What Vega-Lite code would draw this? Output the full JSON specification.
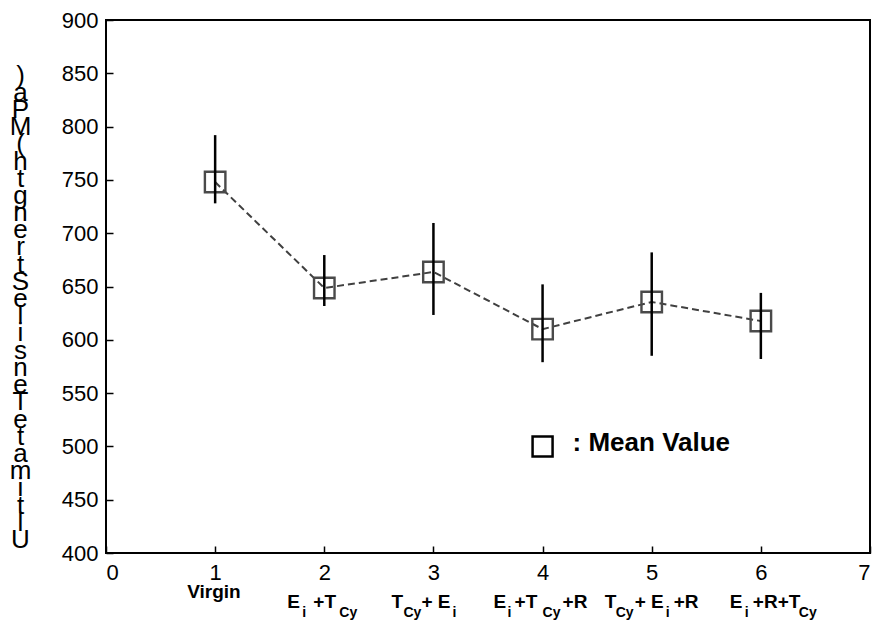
{
  "$schema": "https://vega.github.io/schema/vega-lite/v6.json",
  "width": 764,
  "height": 533,
  "autosize": {"type": "none"},
  "padding": {"left": 106, "top": 20, "right": 8, "bottom": 69},
  "background": "white",
  "config": {
    "view": {"stroke": "black", "strokeWidth": 2},
    "axis": {
      "domain": false,
      "grid": false,
      "tickColor": "black",
      "tickWidth": 1.5,
      "tickSize": -7,
      "labelFont": "Liberation Sans",
      "labelFontSize": 22,
      "labelColor": "black"
    },
    "text": {"font": "Liberation Sans", "color": "black"}
  },
  "datasets": {
    "points": [
      {"pos": 1, "mean": 748, "lo": 728, "hi": 792},
      {"pos": 2, "mean": 648.6, "lo": 631.7, "hi": 679.5},
      {"pos": 3, "mean": 663.6, "lo": 623.3, "hi": 709.6},
      {"pos": 4, "mean": 610, "lo": 579, "hi": 652},
      {"pos": 5, "mean": 635.5, "lo": 585, "hi": 682},
      {"pos": 6, "mean": 617.6, "lo": 582, "hi": 644}
    ],
    "legend": [{"pos": 4, "val": 500, "t": ": Mean Value"}],
    "labels": [
      {"id": "1a", "pos": 1, "t": "Virgin"},
      {"id": "2a", "pos": 2, "t": "E"},
      {"id": "2b", "pos": 2, "t": "i"},
      {"id": "2c", "pos": 2, "t": "+T"},
      {"id": "2d", "pos": 2, "t": "Cy"},
      {"id": "3a", "pos": 3, "t": "T"},
      {"id": "3b", "pos": 3, "t": "Cy"},
      {"id": "3c", "pos": 3, "t": "+ E"},
      {"id": "3d", "pos": 3, "t": "i"},
      {"id": "4a", "pos": 4, "t": "E"},
      {"id": "4b", "pos": 4, "t": "i"},
      {"id": "4c", "pos": 4, "t": "+T"},
      {"id": "4d", "pos": 4, "t": "Cy"},
      {"id": "4e", "pos": 4, "t": "+R"},
      {"id": "5a", "pos": 5, "t": "T"},
      {"id": "5b", "pos": 5, "t": "Cy"},
      {"id": "5c", "pos": 5, "t": "+ E"},
      {"id": "5d", "pos": 5, "t": "i"},
      {"id": "5e", "pos": 5, "t": "+R"},
      {"id": "6a", "pos": 6, "t": "E"},
      {"id": "6b", "pos": 6, "t": "i"},
      {"id": "6c", "pos": 6, "t": "+R+T"},
      {"id": "6d", "pos": 6, "t": "Cy"}
    ]
  },
  "encoding": {
    "x": {
      "field": "pos",
      "type": "quantitative",
      "scale": {"domain": [0, 7], "nice": false, "zero": false},
      "axis": {"title": null, "values": [0, 1, 2, 3, 4, 5, 6, 7], "labelPadding": 16, "labelBaseline": "top"}
    }
  },
  "layer": [
    {
      "data": {"name": "points"},
      "mark": {"type": "line", "color": "#404040", "strokeWidth": 2, "strokeDash": [7, 4]},
      "encoding": {
        "y": {
          "field": "mean",
          "type": "quantitative",
          "scale": {"domain": [400, 900], "nice": false, "zero": false},
          "axis": {
            "values": [400, 450, 500, 550, 600, 650, 700, 750, 800, 850, 900],
            "labelPadding": 15,
            "title": [")", "a", "P", "M", "(", " ", "h", "t", "g", "n", "e", "r", "t", "S", " ", "e", "l", "i", "s", "n", "e", "T", " ", "e", "t", "a", "m", "i", "t", "l", "U"],
            "titleAngle": 0,
            "titleAlign": "center",
            "titleBaseline": "top",
            "titleFont": "Liberation Sans",
            "titleFontSize": 26,
            "titleFontWeight": "normal",
            "titleLineHeight": 17.2,
            "titleColor": "black",
            "titleX": -86,
            "titleY": 42
          }
        }
      }
    },
    {
      "data": {"name": "points"},
      "mark": {"type": "square", "filled": false, "stroke": "#4a4a4a", "strokeWidth": 2.4, "size": 420, "opacity": 1},
      "encoding": {"y": {"field": "mean", "type": "quantitative"}}
    },
    {
      "data": {"name": "points"},
      "mark": {"type": "rule", "color": "black", "strokeWidth": 2.5},
      "encoding": {"y": {"field": "lo", "type": "quantitative"}, "y2": {"field": "hi"}}
    },
    {
      "data": {"name": "legend"},
      "mark": {"type": "square", "filled": false, "stroke": "black", "strokeWidth": 2.5, "size": 400, "opacity": 1},
      "encoding": {"y": {"field": "val", "type": "quantitative"}}
    },
    {
      "data": {"name": "legend"},
      "mark": {"type": "text", "align": "left", "baseline": "middle", "dx": 30, "dy": -3, "fontSize": 26, "fontWeight": "bold"},
      "encoding": {"y": {"field": "val", "type": "quantitative"}, "text": {"field": "t"}}
    },
    {"data": {"name": "labels"}, "transform": [{"filter": "datum.id == '1a'"}], "mark": {"type": "text", "align": "left", "baseline": "alphabetic", "dx": -28, "dy": 45, "fontSize": 19, "fontWeight": "bold"}, "encoding": {"y": {"datum": 400}, "text": {"field": "t"}}},
    {"data": {"name": "labels"}, "transform": [{"filter": "datum.id == '2a'"}], "mark": {"type": "text", "align": "left", "baseline": "alphabetic", "dx": -37, "dy": 55, "fontSize": 19, "fontWeight": "bold"}, "encoding": {"y": {"datum": 400}, "text": {"field": "t"}}},
    {"data": {"name": "labels"}, "transform": [{"filter": "datum.id == '2b'"}], "mark": {"type": "text", "align": "left", "baseline": "alphabetic", "dx": -22, "dy": 64, "fontSize": 14, "fontWeight": "bold"}, "encoding": {"y": {"datum": 400}, "text": {"field": "t"}}},
    {"data": {"name": "labels"}, "transform": [{"filter": "datum.id == '2c'"}], "mark": {"type": "text", "align": "left", "baseline": "alphabetic", "dx": -11, "dy": 55, "fontSize": 19, "fontWeight": "bold"}, "encoding": {"y": {"datum": 400}, "text": {"field": "t"}}},
    {"data": {"name": "labels"}, "transform": [{"filter": "datum.id == '2d'"}], "mark": {"type": "text", "align": "left", "baseline": "alphabetic", "dx": 15, "dy": 64, "fontSize": 14, "fontWeight": "bold"}, "encoding": {"y": {"datum": 400}, "text": {"field": "t"}}},
    {"data": {"name": "labels"}, "transform": [{"filter": "datum.id == '3a'"}], "mark": {"type": "text", "align": "left", "baseline": "alphabetic", "dx": -42, "dy": 55, "fontSize": 19, "fontWeight": "bold"}, "encoding": {"y": {"datum": 400}, "text": {"field": "t"}}},
    {"data": {"name": "labels"}, "transform": [{"filter": "datum.id == '3b'"}], "mark": {"type": "text", "align": "left", "baseline": "alphabetic", "dx": -30, "dy": 64, "fontSize": 14, "fontWeight": "bold"}, "encoding": {"y": {"datum": 400}, "text": {"field": "t"}}},
    {"data": {"name": "labels"}, "transform": [{"filter": "datum.id == '3c'"}], "mark": {"type": "text", "align": "left", "baseline": "alphabetic", "dx": -12, "dy": 55, "fontSize": 19, "fontWeight": "bold"}, "encoding": {"y": {"datum": 400}, "text": {"field": "t"}}},
    {"data": {"name": "labels"}, "transform": [{"filter": "datum.id == '3d'"}], "mark": {"type": "text", "align": "left", "baseline": "alphabetic", "dx": 19, "dy": 64, "fontSize": 14, "fontWeight": "bold"}, "encoding": {"y": {"datum": 400}, "text": {"field": "t"}}},
    {"data": {"name": "labels"}, "transform": [{"filter": "datum.id == '4a'"}], "mark": {"type": "text", "align": "left", "baseline": "alphabetic", "dx": -49, "dy": 55, "fontSize": 19, "fontWeight": "bold"}, "encoding": {"y": {"datum": 400}, "text": {"field": "t"}}},
    {"data": {"name": "labels"}, "transform": [{"filter": "datum.id == '4b'"}], "mark": {"type": "text", "align": "left", "baseline": "alphabetic", "dx": -35, "dy": 64, "fontSize": 14, "fontWeight": "bold"}, "encoding": {"y": {"datum": 400}, "text": {"field": "t"}}},
    {"data": {"name": "labels"}, "transform": [{"filter": "datum.id == '4c'"}], "mark": {"type": "text", "align": "left", "baseline": "alphabetic", "dx": -28, "dy": 55, "fontSize": 19, "fontWeight": "bold"}, "encoding": {"y": {"datum": 400}, "text": {"field": "t"}}},
    {"data": {"name": "labels"}, "transform": [{"filter": "datum.id == '4d'"}], "mark": {"type": "text", "align": "left", "baseline": "alphabetic", "dx": 0, "dy": 64, "fontSize": 14, "fontWeight": "bold"}, "encoding": {"y": {"datum": 400}, "text": {"field": "t"}}},
    {"data": {"name": "labels"}, "transform": [{"filter": "datum.id == '4e'"}], "mark": {"type": "text", "align": "left", "baseline": "alphabetic", "dx": 20, "dy": 55, "fontSize": 19, "fontWeight": "bold"}, "encoding": {"y": {"datum": 400}, "text": {"field": "t"}}},
    {"data": {"name": "labels"}, "transform": [{"filter": "datum.id == '5a'"}], "mark": {"type": "text", "align": "left", "baseline": "alphabetic", "dx": -47, "dy": 55, "fontSize": 19, "fontWeight": "bold"}, "encoding": {"y": {"datum": 400}, "text": {"field": "t"}}},
    {"data": {"name": "labels"}, "transform": [{"filter": "datum.id == '5b'"}], "mark": {"type": "text", "align": "left", "baseline": "alphabetic", "dx": -36, "dy": 64, "fontSize": 14, "fontWeight": "bold"}, "encoding": {"y": {"datum": 400}, "text": {"field": "t"}}},
    {"data": {"name": "labels"}, "transform": [{"filter": "datum.id == '5c'"}], "mark": {"type": "text", "align": "left", "baseline": "alphabetic", "dx": -17, "dy": 55, "fontSize": 19, "fontWeight": "bold"}, "encoding": {"y": {"datum": 400}, "text": {"field": "t"}}},
    {"data": {"name": "labels"}, "transform": [{"filter": "datum.id == '5d'"}], "mark": {"type": "text", "align": "left", "baseline": "alphabetic", "dx": 14, "dy": 64, "fontSize": 14, "fontWeight": "bold"}, "encoding": {"y": {"datum": 400}, "text": {"field": "t"}}},
    {"data": {"name": "labels"}, "transform": [{"filter": "datum.id == '5e'"}], "mark": {"type": "text", "align": "left", "baseline": "alphabetic", "dx": 22, "dy": 55, "fontSize": 19, "fontWeight": "bold"}, "encoding": {"y": {"datum": 400}, "text": {"field": "t"}}},
    {"data": {"name": "labels"}, "transform": [{"filter": "datum.id == '6a'"}], "mark": {"type": "text", "align": "left", "baseline": "alphabetic", "dx": -31, "dy": 55, "fontSize": 19, "fontWeight": "bold"}, "encoding": {"y": {"datum": 400}, "text": {"field": "t"}}},
    {"data": {"name": "labels"}, "transform": [{"filter": "datum.id == '6b'"}], "mark": {"type": "text", "align": "left", "baseline": "alphabetic", "dx": -16, "dy": 64, "fontSize": 14, "fontWeight": "bold"}, "encoding": {"y": {"datum": 400}, "text": {"field": "t"}}},
    {"data": {"name": "labels"}, "transform": [{"filter": "datum.id == '6c'"}], "mark": {"type": "text", "align": "left", "baseline": "alphabetic", "dx": -8, "dy": 55, "fontSize": 19, "fontWeight": "bold"}, "encoding": {"y": {"datum": 400}, "text": {"field": "t"}}},
    {"data": {"name": "labels"}, "transform": [{"filter": "datum.id == '6d'"}], "mark": {"type": "text", "align": "left", "baseline": "alphabetic", "dx": 38, "dy": 64, "fontSize": 14, "fontWeight": "bold"}, "encoding": {"y": {"datum": 400}, "text": {"field": "t"}}}
  ]
}
